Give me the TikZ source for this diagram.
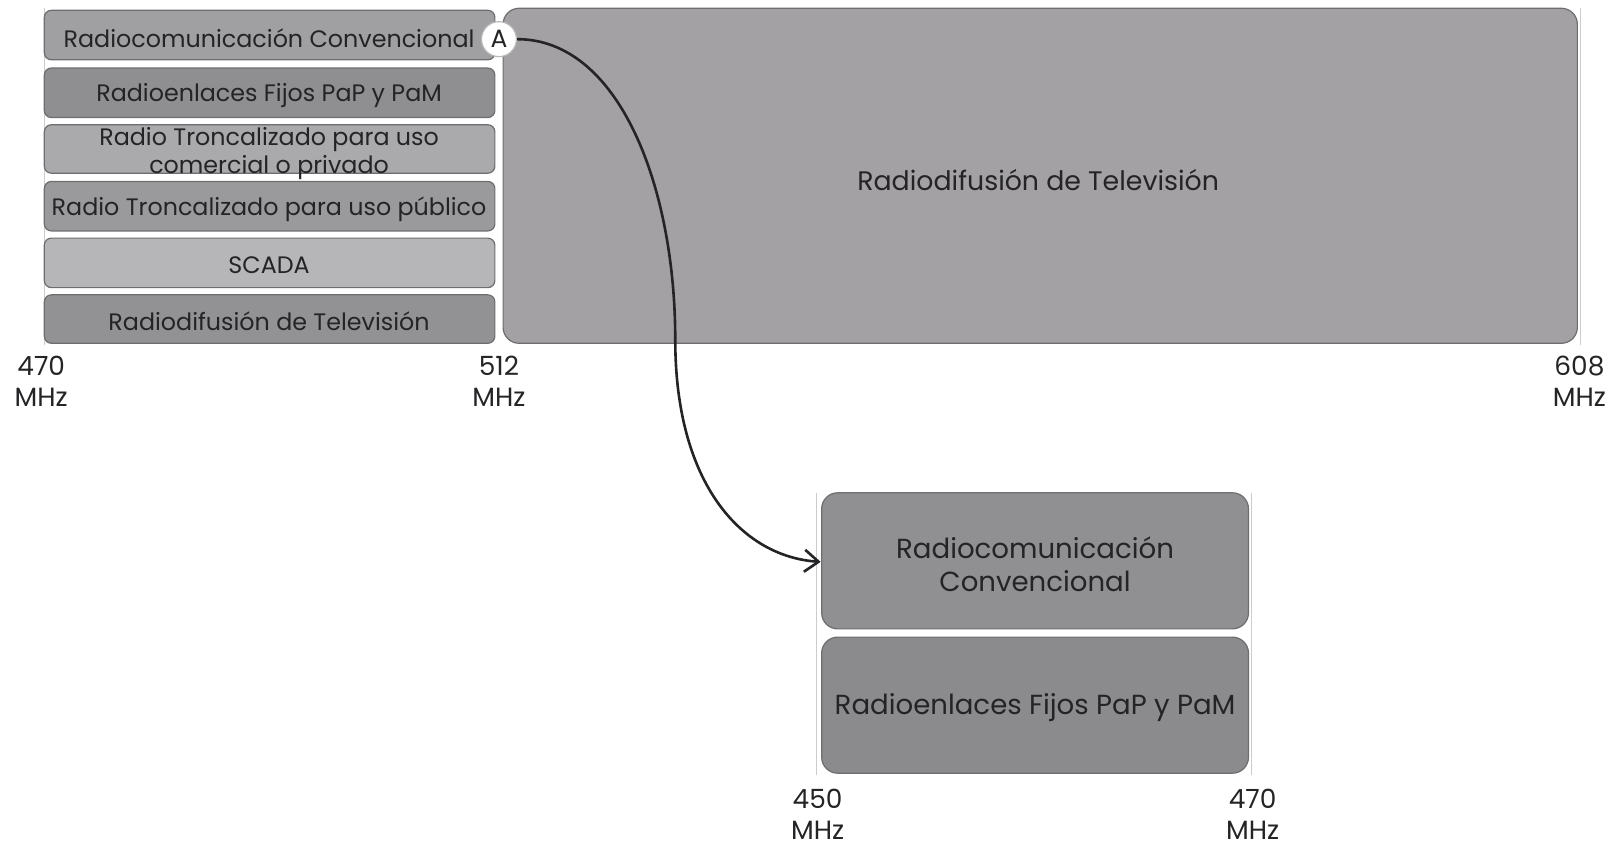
\documentclass[tikz,border=0pt]{standalone}
\usepackage{fontspec}
\setmainfont{Poppins}
\usetikzlibrary{arrows.meta}
\definecolor{txt}{HTML}{242325}
\definecolor{cA}{HTML}{A09FA1}
\definecolor{cB}{HTML}{8F8E90}
\definecolor{cC}{HTML}{AAA9AB}
\definecolor{cD}{HTML}{9A999B}
\definecolor{cE}{HTML}{B6B5B7}
\definecolor{cF}{HTML}{929193}
\definecolor{cBig}{HTML}{A3A1A4}
\definecolor{cL1}{HTML}{908F91}
\definecolor{cL2}{HTML}{8B8A8C}
\definecolor{edge}{HTML}{6E6D70}
\tikzset{
  band/.style={draw=edge, line width=0.6pt, rounded corners=3.5pt},
  bigband/.style={draw=edge, line width=0.6pt, rounded corners=8pt},
  lbl/.style={text=txt, font=\fontsize{11.9}{13.9}\selectfont, align=center, inner sep=0pt},
  biglbl/.style={text=txt, font=\fontsize{13.4}{16}\selectfont, align=center, inner sep=0pt},
  lowlbl/.style={text=txt, font=\fontsize{13.8}{16.5}\selectfont, align=center, inner sep=0pt},
  freq/.style={text=txt, font=\fontsize{13.2}{15.5}\selectfont, align=center, inner sep=0pt},
  tick/.style={draw=gray!40, line width=0.3pt}
}
\begin{document}
\begin{tikzpicture}[x=0.51546pt,y=-0.51546pt]
\useasboundingbox (0,0) rectangle (1567.5,820.6);
% ticks
\draw[tick] (43,8) -- (43,335);
\draw[tick] (1533,8) -- (1533,335);
\draw[tick] (792,478) -- (792,752);
\draw[tick] (1214,478) -- (1214,752);
% left bands
\draw[band, fill=cA] (43,10) rectangle (480,58);
\draw[band, fill=cB] (43,66) rectangle (480,114);
\draw[band, fill=cC] (43,121) rectangle (480,168);
\draw[band, fill=cD] (43,176) rectangle (480,224);
\draw[band, fill=cE] (43,231) rectangle (480,279);
\draw[band, fill=cF] (43,286) rectangle (480,333);
\node[lbl] (r1) at (261,37) {Radiocomunicación Convencional};
\node[lbl] (r2) at (261,93) {Radioenlaces Fijos PaP y PaM};
\node[lbl] (r3) at (261,149) {Radio Troncalizado para uso\\comercial o privado};
\node[lbl] (r4) at (261,203) {Radio Troncalizado para uso público};
\node[lbl] (r5) at (261,257) {SCADA};
\node[lbl] (r6) at (261,312) {Radiodifusión de Televisión};
% big band
\draw[bigband, fill=cBig] (488,8) rectangle (1530,333);
\node[biglbl] (tv) at (1007,175) {Radiodifusión de Televisión};
% lower bands
\draw[bigband, fill=cL1] (797,478) rectangle (1211,610);
\draw[bigband, fill=cL2] (797,618) rectangle (1211,750);
\node[lowlbl] (c1) at (1004,547) {Radiocomunicación\\Convencional};
\node[lowlbl] (c2) at (1004,686) {Radioenlaces Fijos PaP y PaM};
\coordinate (tgt) at (796,545);
% frequency labels
\node[freq] (f470) at (40,370) {470\\MHz};
\node[freq] (f512) at (484,370) {512\\MHz};
\node[freq] (f608) at (1532,370) {608\\MHz};
\node[freq] (f450) at (793,790) {450\\MHz};
\node[freq] (f470b) at (1215,790) {470\\MHz};
% marker A
\node[circle, fill=white, draw=gray!55, line width=0.6pt, minimum size=17.5pt, inner sep=0pt, text=txt, font=\fontsize{12.5}{13}\selectfont] (A) at (484,38) {A};
% arrow
\draw[line width=1.3pt, color=txt, -{Straight Barb[length=7pt,width=11pt,line width=1.3pt]}]
  (A.east) .. controls (600,38) and (655,180) .. (655,330)
  .. controls (655,470) and (720,540) .. (tgt);
\end{tikzpicture}
\end{document}
